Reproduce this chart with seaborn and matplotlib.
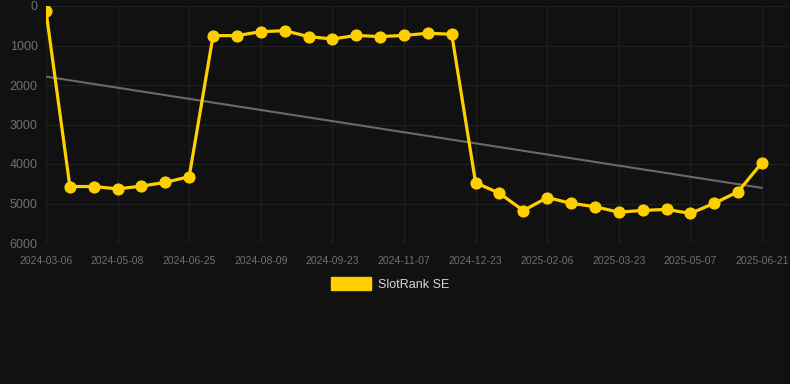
import matplotlib
matplotlib.use("Agg")
import matplotlib.pyplot as plt
import numpy as np
import pandas as pd
import seaborn as sns
from matplotlib.patches import Patch

# rank values (one point roughly every two weeks)
ranks = [
    130, 4570, 4570, 4630, 4560, 4465, 4320,
    750, 750, 650, 625, 775, 835, 745, 775, 745, 690, 715,
    4475, 4740, 5180, 4850, 4995, 5080, 5220, 5175, 5150, 5250, 4995, 4700, 3965,
]
tick_labels = [
    "2024-03-06", "2024-05-08", "2024-06-25", "2024-08-09", "2024-09-23",
    "2024-11-07", "2024-12-23", "2025-02-06", "2025-03-23", "2025-05-07",
    "2025-06-21",
]
series_name = "SlotRank SE"

df = pd.DataFrame({"idx": np.arange(len(ranks)), "rank": ranks})

bg = "#111111"
grid_c = "#1f1f1f"
yellow = "#FFD000"

sns.set_style("dark")
plt.rcParams["font.family"] = ["Liberation Sans", "DejaVu Sans"]

fig = plt.figure(figsize=(7.9, 3.84), dpi=100, facecolor=bg)
ax = fig.add_axes([46 / 790, 1 - 243 / 384, (790 - 46) / 790, (243 - 6) / 384])
ax.set_facecolor(bg)

# trend line (linear fit of the series)
sns.regplot(
    data=df, x="idx", y="rank", scatter=False, ci=None, ax=ax,
    line_kws={"color": "#6a6a6a", "linewidth": 1.5, "zorder": 2},
)

sns.lineplot(
    data=df, x="idx", y="rank", ax=ax, color=yellow, linewidth=2.3,
    marker="o", markersize=8, markeredgecolor=yellow, zorder=3,
)

ax.set_ylim(6000, 0)
ax.set_xlim(0, 30 + 28 / 23.87)
ax.set_yticks(range(0, 6001, 1000))
ax.set_xticks(range(0, len(ranks), 3))
ax.set_xticklabels(tick_labels)
ax.set_xlabel("")
ax.set_ylabel("")

ax.grid(True, color=grid_c, linewidth=1.0)
for s in ax.spines.values():
    s.set_visible(False)
ax.tick_params(axis="y", colors=grid_c, labelcolor="#707070", labelsize=9,
               length=6, width=1.0, pad=0)
ax.tick_params(axis="x", colors=grid_c, labelcolor="#707070", labelsize=7.5,
               length=7, width=1.0, pad=2)

fig.legend(
    handles=[Patch(facecolor=yellow, edgecolor=yellow, label=series_name)],
    loc="center", bbox_to_anchor=(390 / 790, 1 - 284 / 384), frameon=False,
    labelcolor="#d8d8d8", fontsize=9, handlelength=3.2, handleheight=1.2,
    handletextpad=0.5,
)

fig.savefig("out.png", dpi=100, facecolor=bg)
